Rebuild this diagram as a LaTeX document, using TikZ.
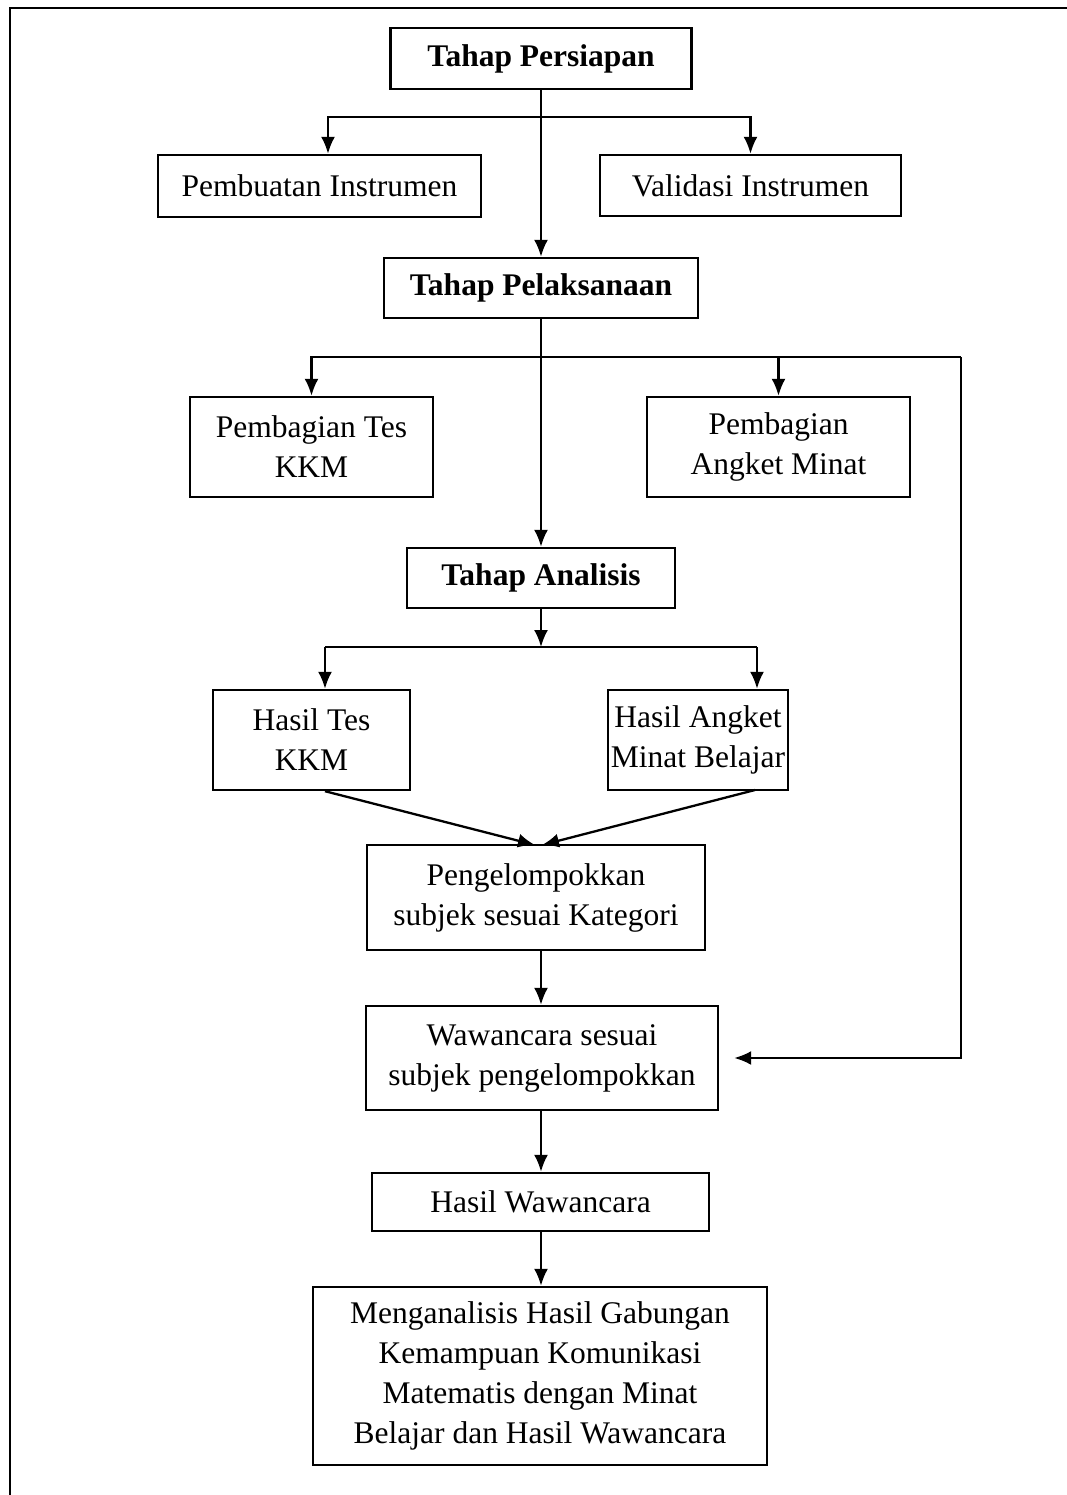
\documentclass[tikz,border=0pt]{standalone}
\usepackage{fontspec}
\setmainfont{Liberation Serif}
\usetikzlibrary{arrows.meta}
\begin{document}
\begin{tikzpicture}[x=1pt,y=-1pt,
  box/.style={draw,line width=2.4pt,align=center,inner sep=0pt,
    font=\fontsize{31.5}{40}\selectfont},
  bbox/.style={box,font=\fontsize{31.5}{40}\selectfont\bfseries},
  arr/.style={line width=2.3pt,-{Latex[length=17pt,width=14pt]}},
  ln/.style={line width=2.3pt},
  frame/.style={line width=2.2pt}]
\useasboundingbox (0,0) rectangle (1067,1495);
\fill[white] (0,0) rectangle (1067,1495);
\draw[frame] (10,1495) -- (10,8) -- (1067,8);

\node[bbox,minimum width=301pt,minimum height=61pt] (persiapan) at (541,58.5) {Tahap Persiapan};
\node[box,minimum width=323pt,minimum height=62pt] (pembuatan) at (319.5,186) {Pembuatan Instrumen};
\node[box,minimum width=301pt,minimum height=61pt] (validasi) at (750.5,185.5) {Validasi Instrumen};
\node[bbox,minimum width=314pt,minimum height=60pt] (pelaksanaan) at (541,288) {Tahap Pelaksanaan};
\node[box,minimum width=243pt,minimum height=100pt] (tes) at (311.5,447) {Pembagian Tes\\KKM};
\node[box,minimum width=263pt,minimum height=100pt] (angket) at (778.5,447) {Pembagian\\Angket Minat};
\node[bbox,minimum width=268pt,minimum height=60pt] (analisis) at (541,578) {Tahap Analisis};
\node[box,minimum width=197pt,minimum height=100pt] (hasiltes) at (311.5,740) {Hasil Tes\\KKM};
\node[box,minimum width=180pt,minimum height=100pt] (hasilangket) at (698,740) {Hasil Angket\\Minat Belajar};
\node[box,minimum width=338pt,minimum height=105pt] (kelompok) at (536,897.5) {Pengelompokkan\\subjek sesuai Kategori};
\node[box,minimum width=352pt,minimum height=104pt] (wawancara) at (542,1058) {Wawancara sesuai\\subjek pengelompokkan};
\node[box,minimum width=337pt,minimum height=58pt] (hasilwaw) at (540.5,1202) {Hasil Wawancara};
\node[box,minimum width=454pt,minimum height=178pt] (final) at (540,1376) {Menganalisis Hasil Gabungan\\Kemampuan Komunikasi\\Matematis dengan Minat\\Belajar dan Hasil Wawancara};

% branch 1
\coordinate (b1) at (541,117);
\coordinate (p1) at (328,117);
\draw[arr] (persiapan.south) -- (pelaksanaan.north);
\draw[arr] (b1) -- (p1) -- (p1 |- pembuatan.north);
\draw[arr] (b1) -| (validasi.north);

% branch 2
\coordinate (b2) at (541,357);
\coordinate (r2) at (961,357);
\draw[arr] (pelaksanaan.south) -- (analisis.north);
\draw[arr] (b2) -| (tes.north);
\draw[arr] (b2) -| (angket.north);
\draw[ln] (b2) -- (r2);
\draw[arr,shorten >=15pt] (r2) |- (wawancara.east);

% branch 3
\coordinate (b3) at (541,647);
\coordinate (p3) at (325,647);
\coordinate (q3) at (757,647);
\draw[arr] (analisis.south) -- (b3);
\draw[ln] (p3) -- (q3);
\draw[arr] (p3) -- (p3 |- hasiltes.north);
\draw[arr] (q3) -- (q3 |- hasilangket.north);

% merge
\coordinate (t1) at (535,845);
\coordinate (t2) at (542,845);
\coordinate (s2) at (755,790);
\draw[arr] (p3 |- hasiltes.south) -- (t1);
\draw[arr] (s2) -- (t2);

\draw[arr] (kelompok.south -| b1) -- (wawancara.north -| b1);
\draw[arr] (wawancara.south -| b1) -- (hasilwaw.north -| b1);
\draw[arr] (hasilwaw.south -| b1) -- (final.north -| b1);
\end{tikzpicture}
\end{document}
